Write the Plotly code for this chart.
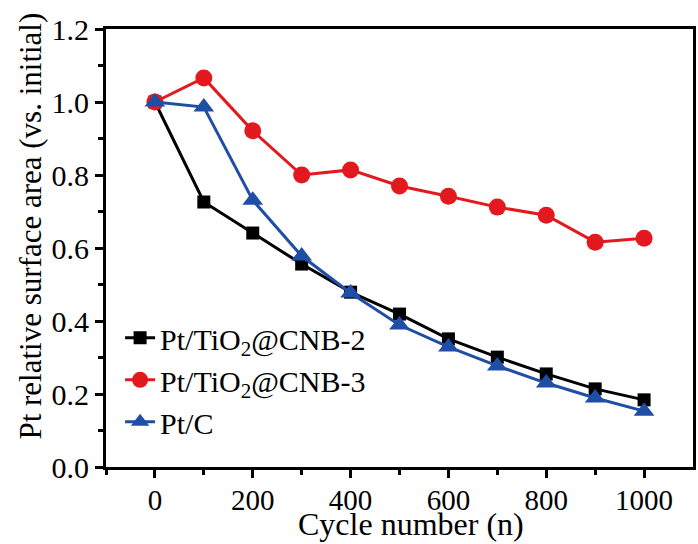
import plotly.graph_objects as go

cycles = [0, 100, 200, 300, 400, 500, 600, 700, 800, 900, 1000]
cnb2 = [1.0, 0.726, 0.641, 0.556, 0.479, 0.419, 0.351, 0.301, 0.255, 0.214, 0.184]
cnb3 = [1.0, 1.066, 0.921, 0.800, 0.814, 0.770, 0.742, 0.712, 0.690, 0.616, 0.627]
ptc = [1.0, 0.986, 0.731, 0.578, 0.477, 0.389, 0.329, 0.277, 0.230, 0.189, 0.153]
names = ["Pt/TiO<sub>2</sub>@CNB-2", "Pt/TiO<sub>2</sub>@CNB-3", "Pt/C"]
x_title = "Cycle number (n)"
y_title = "Pt relative surface area (vs. initial)"

FONT = "Liberation Serif, Times New Roman, serif"

fig = go.Figure()
fig.add_trace(go.Scatter(x=cycles, y=cnb2, name=names[0], mode="lines+markers",
                         line=dict(color="#000000", width=3),
                         marker=dict(symbol="square", size=13, color="#000000")))
fig.add_trace(go.Scatter(x=cycles, y=cnb3, name=names[1], mode="lines+markers",
                         line=dict(color="#E3191F", width=3),
                         marker=dict(symbol="circle", size=17, color="#E3191F")))
fig.add_trace(go.Scatter(x=cycles, y=ptc, name=names[2], mode="lines+markers",
                         line=dict(color="#1F4EA6", width=3),
                         marker=dict(symbol="triangle-up", size=18, color="#1F4EA6")))

axis_common = dict(showline=True, linecolor="black", linewidth=3, mirror=True,
                   ticks="outside", ticklen=8, tickwidth=3, tickcolor="black",
                   showgrid=False, zeroline=False)

fig.update_xaxes(range=[-100, 1100], tickmode="array",
                 tickvals=[0, 200, 400, 600, 800, 1000],
                 tickfont=dict(family=FONT, size=29, color="black"),
                 ticklabelstandoff=-3,
                 minor=dict(tickvals=[-100, 100, 300, 500, 700, 900], ticklen=5, tickwidth=3, tickcolor="black", ticks="outside"),
                 **axis_common)
fig.update_yaxes(range=[0, 1.2], tickmode="array",
                 tickvals=[0, 0.2, 0.4, 0.6, 0.8, 1.0, 1.2],
                 ticktext=["0.0", "0.2", "0.4", "0.6", "0.8", "1.0", "1.2"],
                 tickfont=dict(family=FONT, size=30, color="black"),
                 minor=dict(tickvals=[0.1, 0.3, 0.5, 0.7, 0.9, 1.1], ticklen=5, tickwidth=3, tickcolor="black", ticks="outside"),
                 **axis_common)

fig.add_annotation(text=x_title, xref="paper", yref="paper", x=0.5195, y=-0.1758,
                   xanchor="center", yanchor="bottom", showarrow=False,
                   font=dict(family=FONT, size=32, color="black"))
fig.add_annotation(text=y_title, xref="paper", yref="paper", x=-0.1286, y=0.55,
                   xanchor="center", yanchor="middle", showarrow=False, textangle=-90,
                   font=dict(family=FONT, size=31, color="black"))

fig.update_layout(
    width=698, height=544,
    margin=dict(l=106, r=2, t=29, b=77),
    plot_bgcolor="white", paper_bgcolor="white",
    font=dict(family=FONT, size=30, color="black"),
    legend=dict(x=0.024, y=0.199, xanchor="left", yanchor="middle",
                bgcolor="rgba(0,0,0,0)", font=dict(family=FONT, size=30, color="black"),
                tracegroupgap=0),
    showlegend=True,
)

fig.write_html("out.html")
